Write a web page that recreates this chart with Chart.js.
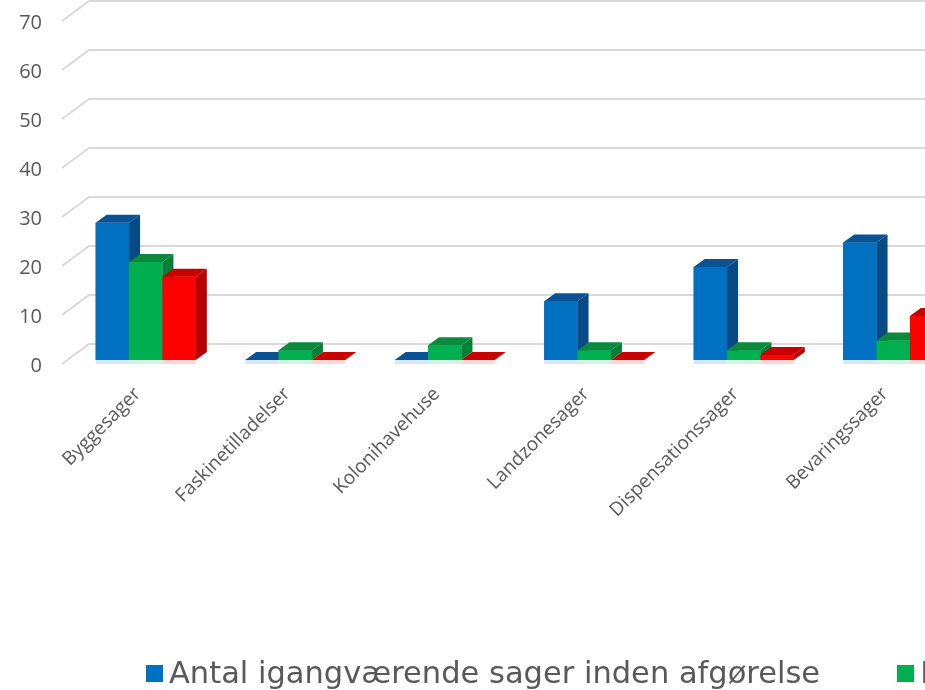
<!DOCTYPE html>
<html>
<head>
<meta charset="utf-8">
<script src="https://cdn.jsdelivr.net/npm/chart.js@4.4.0/dist/chart.umd.min.js"></script>
<style>
  html, body { margin: 0; padding: 0; background: #fff; overflow: hidden; }
  #wrap { position: relative; width: 975px; height: 690px; }
  #legend {
    position: absolute; left: 146px; top: 656px;
    display: flex; white-space: nowrap;
    font-family: 'DejaVu Sans', sans-serif;
    font-size: 30.5px; line-height: 34px; color: #595959;
  }
  .item { display: flex; align-items: center; margin-right: 77px; }
  .box { width: 17px; height: 17px; margin-right: 6px; }
</style>
</head>
<body>
<div id="wrap">
  <canvas id="sagerChart" width="975" height="690"></canvas>
  <div id="legend"></div>
</div>
<script>
//DATA
let categories = ['Byggesager', 'Faskinetilladelser', 'Kolonihavehuse', 'Landzonesager', 'Dispensationssager', 'Bevaringssager'];
let seriesNames = ['Antal igangværende sager inden afgørelse', 'Indkomne sager', 'Afgjorte sager'];
let igangvaerende = [28, 0, 0, 12, 19, 24];
let indkomne = [20, 2, 3, 2, 2, 4];
let afgjorte = [17, 0, 0, 0, 1, 9];
let yTicks = [0, 10, 20, 30, 40, 50, 60, 70];

//colours: front, top, side, glow under the bar
const shades = [
    { front: '#0070c0', top: '#0a5294', side: '#074a86', glow: 'rgba(0, 112, 192, .16)' },
    { front: '#00b050', top: '#0b8a3e', side: '#087f38', glow: 'rgba(0, 176, 80, .16)' },
    { front: '#ff0000', top: '#c80000', side: '#b40000', glow: 'rgba(255, 0, 0, .16)' }
];

const depthX = 11, depthY = 8;   // bar top/side depth
const wallX = 27, wallY = 20;    // grid diagonal depth

const bars3d = {
    id: 'bars3d',
    beforeDatasetsDraw(chart) {
        const ctx = chart.ctx;
        const yScale = chart.scales.y;
        const startX = chart.chartArea.left - 9;
        ctx.save();
        ctx.strokeStyle = '#d9d9d9';
        ctx.lineWidth = 2;
        yScale.ticks.forEach(t => {
            const py = yScale.getPixelForValue(t.value);
            ctx.beginPath();
            ctx.moveTo(startX, py + 4);
            ctx.lineTo(startX + wallX, py + 4 - wallY);
            ctx.lineTo(chart.width, py + 4 - wallY);
            ctx.stroke();
        });
        ctx.restore();
    },
    afterDatasetsDraw(chart) {
        const ctx = chart.ctx;
        ctx.save();
        chart.data.datasets.forEach((ds, j) => {
            const c = shades[j];
            chart.getDatasetMeta(j).data.forEach(bar => {
                const { x, y, base, width } = bar.getProps(['x', 'y', 'base', 'width'], true);
                const l = x - width / 2, r = x + width / 2;
                ctx.fillStyle = c.glow;
                ctx.fillRect(l, base, width, 4);
                ctx.fillStyle = c.front;
                ctx.fillRect(l, y, width, base - y);
                ctx.fillStyle = c.top;
                ctx.beginPath();
                ctx.moveTo(l, y);
                ctx.lineTo(l + depthX, y - depthY);
                ctx.lineTo(r + depthX, y - depthY);
                ctx.lineTo(r, y);
                ctx.closePath();
                ctx.fill();
                ctx.fillStyle = c.side;
                ctx.beginPath();
                ctx.moveTo(r, y);
                ctx.lineTo(r + depthX, y - depthY);
                ctx.lineTo(r + depthX, base - depthY);
                ctx.lineTo(r, base);
                ctx.closePath();
                ctx.fill();
            });
        });
        ctx.restore();
    }
};

const sagerChart = document.querySelector('#sagerChart');

const chart = new Chart(sagerChart, {
    type: 'bar',
    data: {
        labels: categories,
        datasets: [
            { label: seriesNames[0], data: igangvaerende, backgroundColor: shades[0].front },
            { label: seriesNames[1], data: indkomne, backgroundColor: shades[1].front },
            { label: seriesNames[2], data: afgjorte, backgroundColor: shades[2].front }
        ]
    },
    options: {
        responsive: false,
        animation: false,
        layout: { padding: { top: 17, right: 7, left: 0, bottom: 0 } },
        datasets: {
            bar: { categoryPercentage: 0.67, barPercentage: 1.0 }
        },
        plugins: {
            legend: { display: false },
            tooltip: { enabled: false }
        },
        scales: {
            x: {
                grid: { display: false, drawTicks: false },
                border: { display: false },
                ticks: {
                    minRotation: 45,
                    maxRotation: 45,
                    padding: 23,
                    labelOffset: -8,
                    color: '#595959',
                    font: { family: 'Open Sans', size: 19 }
                },
                afterFit(scale) {
                    scale.height = 330;
                    scale.paddingLeft = 0;
                    scale.paddingRight = 0;
                }
            },
            y: {
                min: 0,
                max: 70,
                afterBuildTicks(scale) { scale.ticks = yTicks.map(v => ({ value: v })); },
                grid: { display: false, drawTicks: false },
                border: { display: false },
                ticks: {
                    padding: 29,
                    labelOffset: 6,
                    color: '#595959',
                    font: { family: 'Open Sans', size: 20 }
                },
                afterFit(scale) {
                    scale.width = 71;
                    scale.paddingTop = 0;
                    scale.paddingBottom = 0;
                }
            }
        }
    },
    plugins: [bars3d]
});

//HTML LEGEND
const legend = document.querySelector('#legend');
chart.data.datasets.forEach((ds, i) => {
    const item = document.createElement('div');
    item.className = 'item';
    const box = document.createElement('span');
    box.className = 'box';
    box.style.background = shades[i].front;
    const text = document.createElement('span');
    text.textContent = ds.label;
    item.appendChild(box);
    item.appendChild(text);
    legend.appendChild(item);
});
</script>
</body>
</html>
